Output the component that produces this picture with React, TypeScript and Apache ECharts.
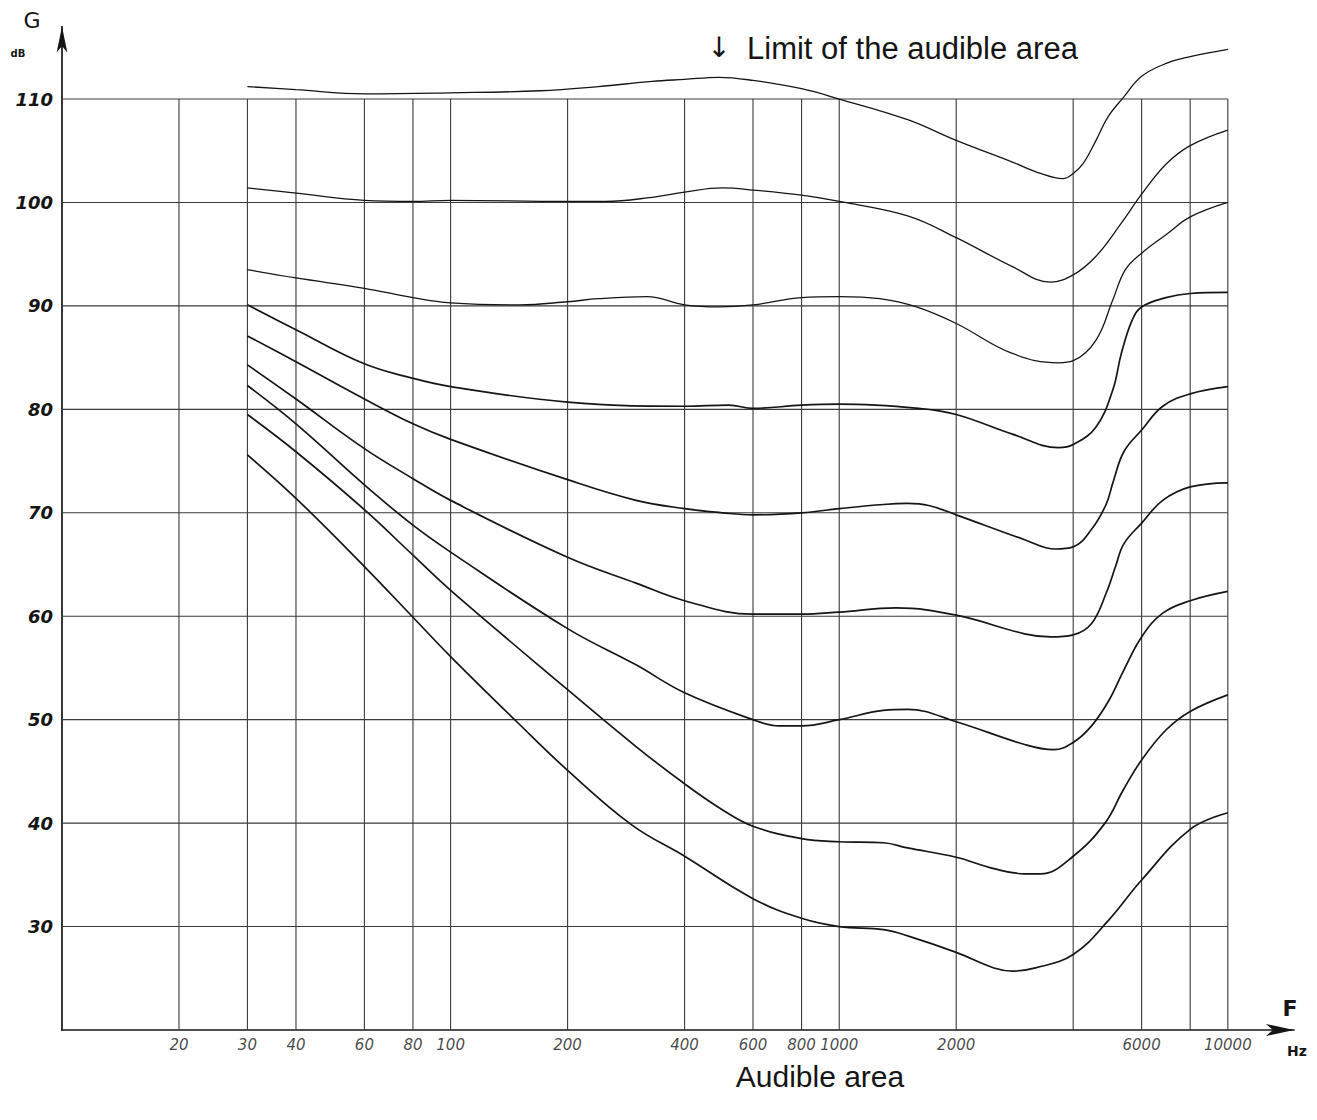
import React, { useEffect, useRef } from "react";
import * as echarts from "echarts";

// Frequencies (Hz) of the vertical grid lines and the labelled ticks
const xGridFreqs = [20, 30, 40, 60, 80, 100, 200, 400, 600, 800, 1000, 2000, 4000, 6000, 8000, 10000];
const xTickLabels = [20, 30, 40, 60, 80, 100, 200, 400, 600, 800, 1000, 2000, 6000, 10000];
// Levels (dB) of the horizontal grid lines and labelled ticks
const yGridLevels = [30, 40, 50, 60, 70, 80, 90, 100, 110];
const yTickLabels = [30, 40, 50, 60, 70, 80, 90, 100, 110];

// Curves: [frequency Hz, level dB]
const curveLimit = [
  [30, 111.2], [40, 110.9], [60, 110.5], [100, 110.6], [170, 110.8], [240, 111.2], [330, 111.7],
  [400, 111.9], [490, 112.1], [600, 111.8], [800, 111.0], [1000, 110.0], [1500, 108.0], [2000, 106.0],
  [2790, 103.9], [3300, 102.8], [3760, 102.3], [4000, 102.8], [4250, 103.8], [4580, 106.0],
  [4920, 108.3], [5400, 110.2], [6000, 112.2], [7000, 113.5], [8000, 114.1], [10000, 114.8],
];
const curve100 = [
  [30, 101.4], [40, 100.9], [60, 100.2], [80, 100.1], [100, 100.2], [200, 100.1], [250, 100.1],
  [330, 100.5], [400, 101.0], [500, 101.4], [600, 101.2], [800, 100.7], [1000, 100.1], [1500, 98.7],
  [2000, 96.6], [2790, 93.8], [3490, 92.3], [4000, 93.0], [4580, 94.8], [5320, 98.0], [6000, 100.8],
  [6930, 103.7], [8000, 105.5], [10000, 107.0],
];
const curve90 = [
  [30, 93.5], [40, 92.7], [60, 91.7], [80, 90.8], [100, 90.3], [150, 90.1], [200, 90.4], [240, 90.7],
  [320, 90.9], [400, 90.1], [490, 89.9], [600, 90.1], [800, 90.8], [1000, 90.9], [1270, 90.7],
  [1580, 89.9], [2000, 88.3], [2790, 85.4], [3670, 84.5], [4000, 84.7], [4580, 86.7], [5060, 90.6],
  [5450, 93.5], [6000, 95.1], [7000, 97.0], [8000, 98.6], [10000, 100.0],
];
const curve80 = [
  [30, 90.1], [40, 87.7], [60, 84.4], [80, 83.0], [100, 82.2], [200, 80.7], [400, 80.3],
  [520, 80.4], [600, 80.1], [800, 80.4], [1000, 80.5], [1600, 80.1], [2000, 79.5], [2790, 77.6],
  [3670, 76.3], [4000, 76.6], [4580, 78.3], [5060, 81.9], [5320, 85.4], [5670, 88.6], [6000, 89.9],
  [6930, 90.8], [8000, 91.2], [10000, 91.3],
];
const curve70 = [
  [30, 87.1], [40, 84.6], [60, 81.0], [80, 78.6], [100, 77.1], [200, 73.2], [300, 71.2], [400, 70.4],
  [500, 70.0], [600, 69.8], [800, 70.0], [1000, 70.4], [1300, 70.8], [1500, 70.9], [1700, 70.7],
  [2000, 69.8], [3000, 67.4], [3600, 66.5], [4000, 66.7], [4460, 68.4], [4860, 70.8], [5070, 73.0],
  [5400, 75.9], [6000, 78.0], [6800, 80.3], [8000, 81.5], [10000, 82.2],
];
const curve60 = [
  [30, 84.3], [40, 81.0], [60, 76.2], [80, 73.3], [100, 71.2], [200, 65.7], [300, 63.2], [400, 61.5],
  [600, 60.2], [800, 60.2], [1000, 60.4], [1400, 60.8], [2000, 60.1], [3000, 58.3],
  [3500, 58.0], [4000, 58.2], [4460, 59.3], [4860, 62.2], [5140, 64.8], [5400, 67.0], [6000, 69.0],
  [6800, 71.2], [8000, 72.5], [10000, 72.9],
];
const curve50 = [
  [30, 82.3], [40, 78.6], [60, 72.7], [80, 68.8], [100, 66.2], [200, 58.8], [300, 55.3], [400, 52.6],
  [600, 50.0], [700, 49.4], [800, 49.4], [1000, 50.0], [1300, 50.9], [1500, 51.0],
  [2000, 49.8], [3000, 47.6], [3560, 47.1], [4000, 47.8], [4460, 49.4], [4950, 51.9], [5400, 54.8],
  [6000, 58.0], [6800, 60.3], [8000, 61.5], [10000, 62.4],
];
const curve40 = [
  [30, 79.5], [40, 75.9], [60, 70.3], [80, 65.9], [100, 62.5], [200, 52.9], [300, 47.4],
  [400, 43.8], [500, 41.3], [600, 39.7], [800, 38.5], [1000, 38.2], [1300, 38.1], [1500, 37.6],
  [2000, 36.7], [2500, 35.6], [3000, 35.1], [3300, 35.1], [4000, 36.8], [4830, 40.0], [5380, 43.2],
  [6000, 46.1], [6930, 49.0], [8000, 50.8], [10000, 52.4],
];
const curve30 = [
  [30, 75.6], [40, 71.4], [60, 64.8], [80, 59.9], [100, 56.1], [148, 49.8], [200, 45.1], [293, 39.8],
  [400, 36.8], [600, 32.7], [800, 30.8], [1000, 30.0], [1300, 29.7], [1500, 29.1], [2000, 27.5],
  [2500, 26.0], [2800, 25.7], [3200, 26.0], [4000, 27.3], [4930, 30.6], [6000, 34.5], [8000, 39.4],
  [10000, 41.0],
];

const curves = [curveLimit, curve100, curve90, curve80, curve70, curve60, curve50, curve40, curve30];

const X_MIN = 10;
const X_MAX = 14800;
const X_GRID_END = 10000;
const Y_MIN = 20;
const Y_MAX = 117;
const Y_GRID_END = 110;

const INK = "#151515";
const GRID = "#3a3a3a";
const HAND = "'DejaVu Sans', 'Liberation Sans', sans-serif";
const PRINT = "'Liberation Sans', Arial, 'DejaVu Sans', sans-serif";

export default function App() {
  const ref = useRef<HTMLDivElement>(null);

  useEffect(() => {
    if (!ref.current) return;
    const chart = echarts.init(ref.current, undefined, { renderer: "svg" });

    const gridSeries: any[] = [];
    xGridFreqs.forEach((f) => {
      gridSeries.push({
        type: "line",
        data: [[f, Y_MIN], [f, Y_GRID_END]],
        symbol: "none",
        silent: true,
        z: 1,
        lineStyle: { color: GRID, width: 1.1 },
      });
    });
    yGridLevels.forEach((y) => {
      gridSeries.push({
        type: "line",
        data: [[X_MIN, y], [X_GRID_END, y]],
        symbol: "none",
        silent: true,
        z: 1,
        lineStyle: { color: GRID, width: 1.1 },
      });
    });

    const curveSeries = curves.map((c, i) => ({
      type: "line",
      data: c,
      symbol: "none",
      smooth: 0.4,
      silent: true,
      z: 3,
      lineStyle: { color: INK, width: i <= 2 ? 1.3 : 1.7 },
    }));

    const xLabelSeries = {
      type: "scatter",
      data: xTickLabels.map((f) => [f, Y_MIN]),
      symbolSize: 1,
      itemStyle: { color: "rgba(0,0,0,0)" },
      silent: true,
      z: 4,
      label: {
        show: true,
        position: "bottom",
        distance: 7,
        formatter: (p: any) => String(p.value[0]),
        fontFamily: HAND,
        fontStyle: "italic",
        fontSize: 15,
        color: INK,
      },
    };

    chart.setOption({
      animation: false,
      backgroundColor: "#ffffff",
      grid: { left: 62, right: 23, top: 26.6, bottom: 90, containLabel: false, outerBoundsMode: "none" },
      xAxis: {
        type: "log",
        logBase: 10,
        min: X_MIN,
        max: X_MAX,
        axisLine: {
          onZero: false,
          lineStyle: { color: INK, width: 1.7 },
          symbol: ["none", "arrow"],
          symbolSize: [9, 28],
        },
        axisTick: { show: false },
        axisLabel: { show: false },
        splitLine: { show: false },
      },
      yAxis: {
        type: "value",
        min: Y_MIN,
        max: Y_MAX,
        interval: 10,
        axisLine: {
          show: true,
          onZero: false,
          lineStyle: { color: INK, width: 1.7 },
          symbol: ["none", "arrow"],
          symbolSize: [8, 26],
        },
        axisTick: { show: false },
        splitLine: { show: false },
        axisLabel: {
          margin: 9,
          fontFamily: HAND,
          fontStyle: "italic",
          fontWeight: "bold",
          fontSize: 18,
          color: INK,
          formatter: (v: number) => (yTickLabels.includes(v) ? String(v) : ""),
        },
      },
      graphic: [
        { type: "text", x: 32, y: 20, style: { text: "G", fontFamily: HAND, fontSize: 22, fill: INK, textAlign: "center", textVerticalAlign: "middle" } },
        { type: "text", x: 18, y: 53, style: { text: "dB", fontFamily: HAND, fontSize: 10, fontWeight: "bold", fill: INK, textAlign: "center", textVerticalAlign: "middle" } },
        { type: "text", x: 1290, y: 1008, style: { text: "F", fontFamily: HAND, fontSize: 22, fontWeight: "bold", fill: INK, textAlign: "center", textVerticalAlign: "middle" } },
        { type: "text", x: 1297, y: 1051, style: { text: "Hz", fontFamily: HAND, fontSize: 14, fontWeight: "bold", fill: INK, textAlign: "center", textVerticalAlign: "middle" } },
        { type: "text", x: 719, y: 47, style: { text: "↓", fontFamily: "'DejaVu Sans', sans-serif", fontSize: 28, fill: INK, textAlign: "center", textVerticalAlign: "middle" } },
        { type: "text", x: 747, y: 48, style: { text: "Limit of the audible area", fontFamily: PRINT, fontSize: 31, fill: INK, textAlign: "left", textVerticalAlign: "middle" } },
        { type: "text", x: 820, y: 1076, style: { text: "Audible area", fontFamily: PRINT, fontSize: 30, fill: INK, textAlign: "center", textVerticalAlign: "middle" } },
      ],
      series: [...gridSeries, ...curveSeries, xLabelSeries],
    });

    return () => chart.dispose();
  }, []);

  return (
    <div
      ref={ref}
      style={{ position: "absolute", left: 0, top: 0, width: 1317, height: 1120, background: "#fff" }}
    />
  );
}
